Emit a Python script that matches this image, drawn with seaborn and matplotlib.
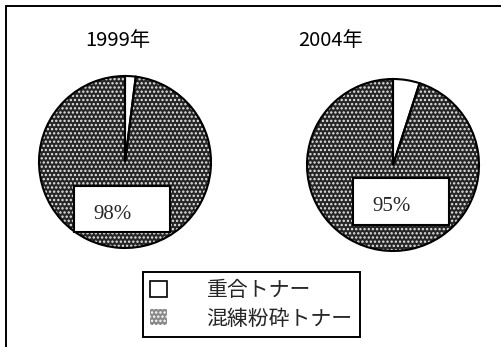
import matplotlib
matplotlib.use("Agg")
import matplotlib.pyplot as plt
from matplotlib.patches import Patch, Rectangle
from matplotlib.lines import Line2D
import seaborn as sns

# Toner production share by manufacturing method
years = ["1999年", "2004年"]
polymerized = [2, 5]        # 重合トナー (%)
pulverized = [98, 95]       # 混練粉砕トナー (%)
pct_labels = ["98%", "95%"]
legend_labels = ["重合トナー", "混練粉砕トナー"]

sns.set_theme(style="white")
plt.rcParams["font.family"] = ["Noto Sans CJK JP", "DejaVu Sans"]
plt.rcParams["hatch.linewidth"] = 1.1

W, H = 502, 347
fig = plt.figure(figsize=(W / 100, H / 100), dpi=100)
fig.patch.set_facecolor("white")
ax = fig.add_axes([0, 0, 1, 1])

dark = "#262626"
centers = [(125, H - 162), (393, H - 165)]
radius = 86
title_pos = [(118, H - 40), (331, H - 40)]
box_pos = [(74, H - 232, 96, 46), (353, H - 225, 96, 47)]
text_pos = [(113, H - 214), (392, H - 206)]

for i in range(len(years)):
    vals = [polymerized[i], pulverized[i]]
    wedges, _ = ax.pie(vals, colors=["white", dark], startangle=90,
                       counterclock=False, center=centers[i], radius=radius,
                       frame=True,
                       wedgeprops=dict(linewidth=0, edgecolor="#e8e8e8"))
    wedges[1].set_hatch("....")
    # outlines drawn on top of the hatched fill
    ax.pie(vals, startangle=90, counterclock=False, center=centers[i],
           radius=radius, frame=True,
           wedgeprops=dict(fill=False, linewidth=1.5, edgecolor="black"))
    ax.text(title_pos[i][0], title_pos[i][1], years[i], ha="center",
            va="center", fontsize=14.5, color="black")
    bx, by, bw, bh = box_pos[i]
    ax.add_patch(Rectangle((bx, by), bw, bh, facecolor="white",
                           edgecolor="black", linewidth=1.5, zorder=5))
    ax.text(text_pos[i][0], text_pos[i][1], pct_labels[i], ha="center",
            va="center", fontsize=15, family="Liberation Serif", zorder=6)

ax.set_xlim(0, W)
ax.set_ylim(0, H)
ax.set_aspect("auto")
ax.axis("off")

# outer frame (left and top edges)
ax.add_line(Line2D([6, 6], [0, H - 6], color="black", lw=1.4))
ax.add_line(Line2D([6, W], [H - 6, H - 6], color="black", lw=1.4))

handles = [Patch(facecolor="white", edgecolor="black", linewidth=1.2),
           Patch(facecolor="#8a8a8a", edgecolor="white", hatch="....",
                 linewidth=0)]
leg = ax.legend(handles, legend_labels, loc="upper left",
                bbox_to_anchor=(143 / W, 1 - 272 / H),
                bbox_transform=fig.transFigure, borderaxespad=0,
                fancybox=False, edgecolor="black", framealpha=1,
                fontsize=15, handlelength=0.8, handleheight=0.8,
                handletextpad=1.9, labelspacing=0.3, borderpad=0.35)
leg.get_frame().set_linewidth(1.4)

fig.savefig("out.png", dpi=100, facecolor="white")
